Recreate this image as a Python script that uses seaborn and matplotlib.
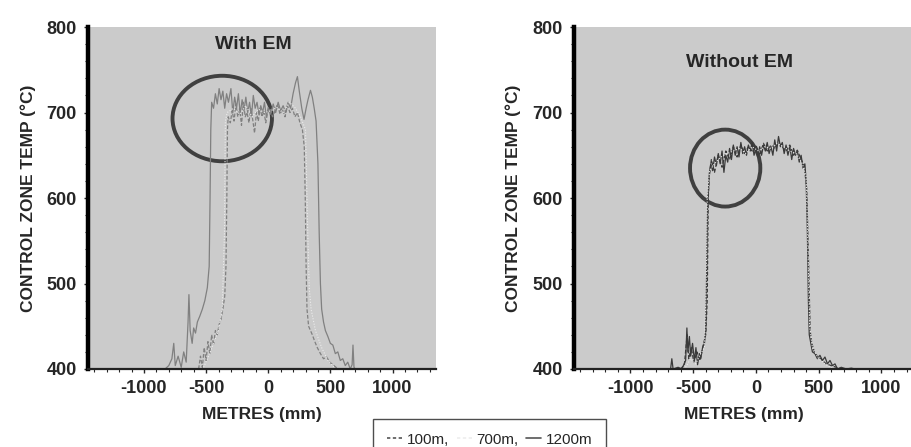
import seaborn as sns
import matplotlib.pyplot as plt
from matplotlib.patches import Ellipse
from matplotlib.lines import Line2D
from matplotlib.ticker import MultipleLocator

# ---- With EM (left panel) ----
em_x_1200 = [-830, -800, -775, -760, -748, -725, -700, -680, -660, -645, -638, -628, -612, -600, -585,
             -570, -550, -530, -510, -490, -475, -468, -462, -455, -440, -425, -410, -395, -380, -365,
             -350, -335, -320, -300, -285, -270, -255, -240, -225, -210, -195, -180, -165, -150, -135,
             -120, -105, -90, -75, -60, -45, -30, -15, 0, 20, 40, 60, 80, 100, 120, 140, 160, 180, 200,
             220, 235, 250, 270, 288, 305, 320, 340, 355, 370, 385, 400, 410, 420, 430, 445, 460, 480,
             500, 520, 540, 560, 580, 600, 620, 640, 660, 675, 682, 690, 700]
em_y_1200 = [400, 404, 412, 430, 404, 415, 402, 420, 408, 455, 487, 445, 430, 448, 442,
             455, 462, 470, 480, 495, 520, 600, 680, 712, 705, 722, 710, 728, 715, 725,
             705, 722, 712, 728, 700, 718, 705, 722, 698, 715, 702, 718, 700, 712, 695,
             720, 705, 712, 698, 708, 700, 712, 695, 706, 698, 710, 700, 712, 702, 708, 700, 712, 705, 722,
             735, 742, 725, 705, 692, 705, 715, 726, 718, 705, 690, 640, 560, 500, 470, 455, 445, 438,
             430, 428, 418, 420, 410, 412, 404, 408, 400, 405, 428, 402, 400]

em_x_100 = [-560, -545, -530, -515, -500, -485, -470, -455, -440, -425, -410, -395, -380, -365, -350,
            -340, -333, -328, -322, -305, -290, -275, -260, -245, -230, -215, -200, -185, -170, -155,
            -140, -125, -110, -95, -80, -65, -50, -35, -20, -5, 15, 35, 55, 75, 95, 115, 135, 155, 175,
            195, 215, 235, 255, 275, 290, 298, 305, 312, 325, 340, 355, 375, 395, 420, 445, 470, 495,
            520, 545, 570]
em_y_100 = [400, 415, 402, 425, 410, 432, 418, 440, 428, 445, 440, 452, 458, 470, 485,
            520, 600, 680, 695, 688, 702, 690, 710, 695, 705, 685, 712, 695, 700, 688,
            705, 692, 676, 700, 690, 705, 695, 702, 688, 700, 705, 695, 702, 710, 698, 704, 695, 708, 700,
            705, 695, 700, 688, 680, 660, 600, 520, 470, 450, 445, 440, 432, 425, 418, 412, 414, 408,
            405, 402, 400]

em_x_700 = [-520, -480, -440, -400, -370, -352, -345, -330, -280, -230, -180, -130, -80, -30, 20,
            70, 120, 170, 220, 260, 300, 318, 330, 345, 380, 430, 480, 530]
em_y_700 = [402, 415, 430, 445, 470, 560, 690, 700, 705, 698, 708, 695, 704, 700, 702,
            706, 700, 712, 705, 695, 680, 560, 495, 470, 445, 425, 410, 402]

# ---- Without EM (right panel) ----
no_x_1200 = [-680, -670, -660, -620, -590, -560, -550, -542, -530, -520, -505, -490, -478, -465, -450,
             -440, -425, -410, -400, -392, -385, -378, -372, -360, -345, -330, -315, -300, -285, -270,
             -255, -240, -225, -210, -195, -180, -165, -150, -135, -120, -105, -90, -75, -60, -45, -30,
             -15, 0, 15, 30, 45, 60, 75, 90, 105, 120, 135, 150, 165, 180, 195, 210, 225, 240, 255, 270,
             285, 300, 315, 330, 345, 360, 375, 390, 400, 410, 418, 425, 435, 450, 470, 490, 510, 530,
             550, 570, 590, 610, 630, 650, 680, 720, 760, 790]
no_y_1200 = [400, 412, 400, 402, 400, 410, 448, 420, 438, 415, 430, 410, 425, 405, 418,
             412, 425, 430, 445, 520, 590, 610, 628, 640, 632, 648, 638, 652, 640, 655,
             630, 650, 642, 658, 645, 662, 650, 660, 648, 665, 652, 660, 650, 662, 655, 665,
             650, 658, 648, 660, 650, 662, 655, 665, 652, 660, 650, 668, 655, 672, 660, 665, 652, 662, 650, 660,
             645, 658, 650, 655, 642, 650, 635, 640, 620, 560, 480, 440, 432, 420, 418, 412, 416, 410,
             414, 406, 410, 404, 406, 400, 402, 400, 401, 400]

no_x_100 = [-600, -570, -548, -535, -515, -495, -470, -445, -420, -400, -388, -380, -372, -355, -330,
            -300, -270, -240, -210, -180, -150, -120, -90, -60, -30, 0, 30, 60, 90, 120, 150, 180, 210,
            240, 270, 300, 330, 360, 385, 405, 420, 432, 445, 470, 500, 530, 560, 600, 640, 680]
no_y_100 = [400, 405, 440, 412, 425, 408, 420, 410, 428, 440, 480, 600, 625, 645, 630,
            650, 636, 655, 645, 660, 648, 662, 652, 660, 655, 662, 650, 664, 655, 662, 658, 665, 660,
            655, 662, 650, 656, 645, 638, 610, 520, 445, 430, 418, 414, 410, 406, 404, 402, 400]

no_x_700 = [-560, -520, -480, -440, -410, -396, -388, -370, -330, -280, -230, -180, -130, -80, -30,
            20, 70, 120, 170, 220, 270, 320, 370, 400, 415, 428, 450, 500, 560, 620]
no_y_700 = [402, 412, 406, 418, 425, 500, 600, 632, 640, 648, 652, 655, 658, 652, 660,
            655, 660, 658, 664, 660, 655, 652, 640, 625, 540, 450, 425, 412, 405, 400]

x_ticks = [-1000, -500, 0, 500, 1000]
y_ticks = [400, 500, 600, 700, 800]
legend_labels = ["100m,", "700m,", "1200m"]

sns.set_style("white")
plt.rcParams["font.family"] = ["Liberation Sans", "DejaVu Sans"]
plt.rcParams["axes.unicode_minus"] = False

fig = plt.figure(figsize=(9.11, 4.47), dpi=100)
ax1 = fig.add_axes([0.0966, 0.1745, 0.382, 0.765])
ax2 = fig.add_axes([0.630, 0.1745, 0.372, 0.765])

panels = [
    (ax1, "With EM", 0.475, (-1450, 1350), 0.05,
     (em_x_100, em_y_100), (em_x_700, em_y_700), (em_x_1200, em_y_1200),
     (-370, 693, 800, 100), "#808080"),
    (ax2, "Without EM", 0.49, (-1450, 1250), 0.105,
     (no_x_100, no_y_100), (no_x_700, no_y_700), (no_x_1200, no_y_1200),
     (-245, 635, 560, 90), "#3a3a3a"),
]

for ax, title, ttl_x, xlim, ttl_y, s100, s700, s1200, ell, col in panels:
    ax.set_facecolor("#cbcbcb")
    sns.lineplot(x=s1200[0], y=s1200[1], ax=ax, color=col, lw=0.9, sort=False, estimator=None)
    sns.lineplot(x=s100[0], y=s100[1], ax=ax, color=col, lw=0.9, sort=False, estimator=None,
                 linestyle=(0, (3, 1.5)))
    sns.lineplot(x=s700[0], y=s700[1], ax=ax, color="#ececec", lw=0.8, sort=False, estimator=None,
                 linestyle=(0, (1, 1.5)))
    ax.add_patch(Ellipse((ell[0], ell[1]), ell[2], ell[3], fill=False, ec="#404040", lw=2.8))
    ax.set_xlim(*xlim)
    ax.set_ylim(400, 800)
    ax.set_xticks(x_ticks)
    ax.set_yticks(y_ticks)
    ax.xaxis.set_minor_locator(MultipleLocator(100))
    ax.yaxis.set_minor_locator(MultipleLocator(20))
    for s in ["top", "right"]:
        ax.spines[s].set_visible(False)
    ax.spines["left"].set_linewidth(3.2)
    ax.spines["left"].set_color("black")
    ax.spines["bottom"].set_linewidth(1.6)
    ax.spines["bottom"].set_color("#222222")
    ax.tick_params(axis="both", which="major", direction="out", length=3, width=1,
                   labelsize=13, pad=5, bottom=True, left=True)
    ax.tick_params(axis="both", which="minor", direction="out", length=2, width=0.8,
                   bottom=True, left=True)
    for lab in ax.get_xticklabels() + ax.get_yticklabels():
        lab.set_fontweight("bold")
    ax.set_xlabel("METRES (mm)", fontsize=12.5, fontweight="bold", labelpad=7)
    ax.set_ylabel("CONTROL ZONE TEMP (\u00b0C)", fontsize=12.5, fontweight="bold", labelpad=8)
    ax.text(ttl_x, 1 - ttl_y, title, transform=ax.transAxes,
            ha="center", va="center", fontsize=14, fontweight="bold")

handles = [
    Line2D([], [], color="#555555", lw=1.2, linestyle=(0, (2, 1.5))),
    Line2D([], [], color="#eeeeee", lw=1.2, linestyle=(0, (2, 1.5))),
    Line2D([], [], color="#555555", lw=1.2),
]
fig.legend(handles, legend_labels, loc="upper left", bbox_to_anchor=(373 / 911, 1 - 419 / 447),
           ncol=3, frameon=True, fancybox=False, edgecolor="#222222", fontsize=11,
           handlelength=1.0, handletextpad=0.3, columnspacing=0.5, borderpad=0.9,
           borderaxespad=0)

fig.savefig("out.png", dpi=100)
